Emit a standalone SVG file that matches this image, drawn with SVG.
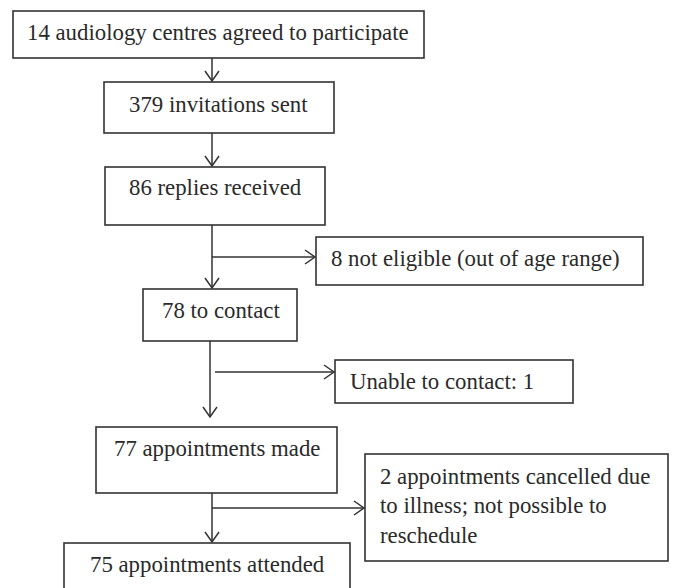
<svg xmlns="http://www.w3.org/2000/svg" width="673" height="588" viewBox="0 0 673 588">
<style>
.b{fill:#fff;stroke:#333;stroke-width:1.6}
.t{font-family:"Liberation Serif",serif;font-size:22.8px;fill:#2a2a2a}
.c{fill:none;stroke:#333;stroke-width:1.5}
</style>
<defs>
<marker id="a" markerWidth="14" markerHeight="16" refX="11" refY="8" orient="auto" markerUnits="userSpaceOnUse">
<polyline points="1,1 11,8 1,15" fill="none" stroke="#333" stroke-width="1.5"/>
</marker>
</defs>
<rect width="673" height="588" fill="#fff"/>
<g id="connectors">
<line class="c" x1="212" y1="58" x2="212" y2="81" marker-end="url(#a)"/>
<line class="c" x1="212" y1="133" x2="212" y2="166" marker-end="url(#a)"/>
<line class="c" x1="212" y1="225" x2="212" y2="288" marker-end="url(#a)"/>
<line class="c" x1="212" y1="257" x2="315" y2="257" marker-end="url(#a)"/>
<line class="c" x1="210" y1="341" x2="210" y2="417" marker-end="url(#a)"/>
<line class="c" x1="215" y1="372" x2="334" y2="372" marker-end="url(#a)"/>
<line class="c" x1="212" y1="493" x2="212" y2="542" marker-end="url(#a)"/>
<line class="c" x1="212" y1="508" x2="364" y2="508" marker-end="url(#a)"/>
</g>
<g id="n1"><rect class="b" x="13" y="11" width="411" height="47"/><text class="t" x="27" y="40">14 audiology centres agreed to participate</text></g>
<g id="n2"><rect class="b" x="104" y="82" width="230" height="51"/><text class="t" x="129" y="112">379 invitations sent</text></g>
<g id="n3"><rect class="b" x="105" y="167" width="220" height="58"/><text class="t" x="129" y="195">86 replies received</text></g>
<g id="n4"><rect class="b" x="316" y="237" width="327" height="48"/><text class="t" x="331" y="266">8 not eligible (out of age range)</text></g>
<g id="n5"><rect class="b" x="143" y="289" width="154" height="52"/><text class="t" x="162" y="318">78 to contact</text></g>
<g id="n6"><rect class="b" x="335" y="360" width="238" height="43"/><text class="t" x="350" y="389">Unable to contact: 1</text></g>
<g id="n7"><rect class="b" x="96" y="427" width="241" height="66"/><text class="t" x="114" y="456">77 appointments made</text></g>
<g id="n8"><rect class="b" x="365" y="454" width="303" height="107"/><text class="t" x="380" y="484">2 appointments cancelled due</text><text class="t" x="380" y="513">to illness; not possible to</text><text class="t" x="380" y="543">reschedule</text></g>
<g id="n9"><rect class="b" x="64" y="543" width="286" height="60"/><text class="t" x="90" y="572">75 appointments attended</text></g>
</svg>
